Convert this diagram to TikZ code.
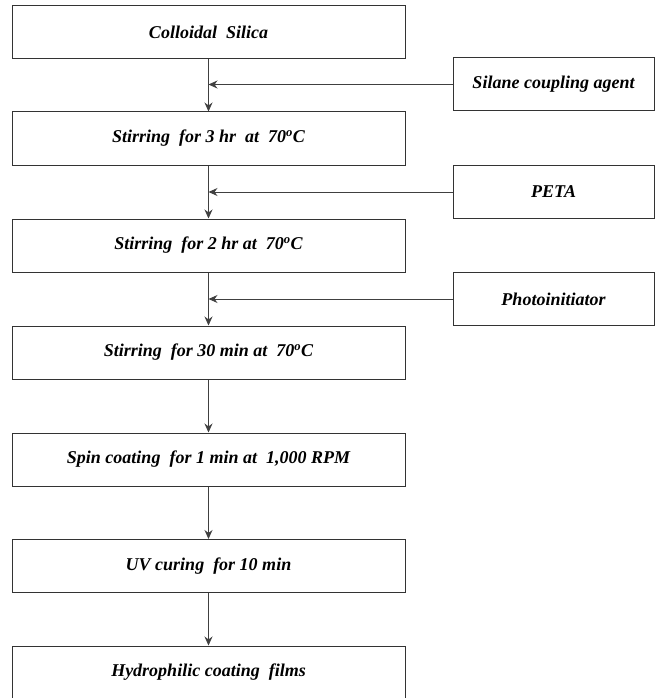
\documentclass[tikz,border=0pt]{standalone}
\usepackage{fontspec}
\setmainfont{Liberation Serif}
\usepackage{tikz}
\usetikzlibrary{arrows.meta}

\begin{document}
\begin{tikzpicture}[x=1pt, y=-1pt,
        stepbox/.style={draw=black!80, line width=1pt, minimum width=393pt, minimum height=53pt, inner sep=0pt,
            font=\fontsize{18}{20}\selectfont\bfseries\itshape},
        addbox/.style={draw=black!80, line width=1pt, minimum width=201pt, minimum height=53pt, inner sep=0pt,
            font=\fontsize{18}{20}\selectfont\bfseries\itshape},
        flow/.style={draw=black!75, line width=1pt, -{Stealth[length=9pt, width=8pt]}}]
        \useasboundingbox (0,0) rectangle (661,698);

        \node[stepbox] (silica) at (208.5, 32) {Colloidal~~Silica};
        \node[stepbox] (stir3) at (208.5, 138.5) {Stirring~~for 3 hr~~at~~70\textsuperscript{o}C};
        \node[stepbox] (stir2) at (208.5, 245.5) {Stirring~~for 2 hr at~~70\textsuperscript{o}C};
        \node[stepbox] (stir30) at (208.5, 352.5) {Stirring~~for 30 min at~~70\textsuperscript{o}C};
        \node[stepbox] (spin) at (208.5, 459.5) {Spin coating~~for 1 min at~~1,000 RPM};
        \node[stepbox] (uv) at (208.5, 566) {UV curing~~for 10 min};
        \node[stepbox] (films) at (208.5, 672.5) {Hydrophilic coating~~films};

        \node[addbox] (silane) at (553.5, 84.5) {Silane coupling agent};
        \node[addbox] (peta) at (553.5, 192) {PETA};
        \node[addbox] (photo) at (553.5, 299) {Photoinitiator};

        \draw[flow] (silica) -- (stir3);
        \draw[flow] (stir3) -- (stir2);
        \draw[flow] (stir2) -- (stir30);
        \draw[flow] (stir30) -- (spin);
        \draw[flow] (spin) -- (uv);
        \draw[flow] (uv) -- (films);

        \draw[flow] (silane) -- (silane -| silica);
        \draw[flow] (peta) -- (peta -| silica);
        \draw[flow] (photo) -- (photo -| silica);
    \end{tikzpicture}
\end{document}
